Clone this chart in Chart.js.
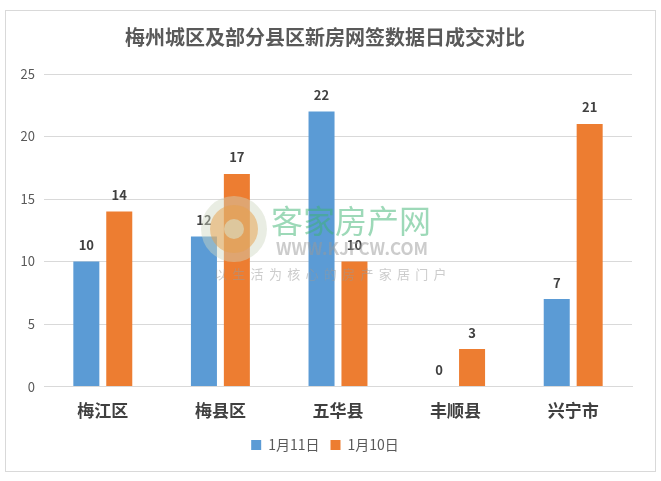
<!DOCTYPE html>
<html>
<head>
<meta charset="utf-8">
<script src="https://cdn.jsdelivr.net/npm/chart.js@4/dist/chart.umd.min.js"></script>
<style>
  body { margin: 0; background: #fff; }
  #box {
    position: absolute; left: 5px; top: 10px;
    width: 649px; height: 460px;
    border: 1px solid #d9d9d9;
  }
</style>
</head>
<body>
<div id="box"><canvas id="grafico"></canvas></div>
<script>
const titulo = "梅州城区及部分县区新房网签数据日成交对比";
const categorias = ["梅江区", "梅县区", "五华县", "丰顺县", "兴宁市"];
const series = ["1月11日", "1月10日"];
const datos11 = [10, 12, 22, 0, 7];
const datos10 = [14, 17, 10, 3, 21];
const ticksY = [0, 5, 10, 15, 20, 25];

const fuente = '"Noto Sans CJK SC", "Noto Sans", sans-serif';

// etiquetas encima de cada barra
const etiquetas = {
  id: "etiquetas",
  afterDatasetsDraw(chart) {
    const ctx = chart.ctx;
    ctx.save();
    ctx.font = "bold 13px " + fuente;
    ctx.fillStyle = "#404040";
    ctx.textAlign = "center";
    ctx.textBaseline = "bottom";
    chart.data.datasets.forEach((ds, i) => {
      chart.getDatasetMeta(i).data.forEach((bar, j) => {
        ctx.fillText(ds.data[j], bar.x, bar.y - 10);
      });
    });
    ctx.restore();
  },
};

// marca de agua (logo del sitio)
const marca = {
  id: "marca",
  afterDraw(chart) {
    const ctx = chart.ctx;
    ctx.save();
    // circulo
    ctx.globalAlpha = 0.45;
    ctx.beginPath();
    ctx.arc(228, 218, 33, 0, Math.PI * 2);
    ctx.fillStyle = "#cfd8c0";
    ctx.fill();
    ctx.globalAlpha = 0.5;
    ctx.beginPath();
    ctx.arc(228, 218, 24, 0, Math.PI * 2);
    ctx.fillStyle = "#e8a04a";
    ctx.fill();
    ctx.globalAlpha = 0.6;
    ctx.beginPath();
    ctx.arc(228, 218, 10, 0, Math.PI * 2);
    ctx.fillStyle = "#d8e0c8";
    ctx.fill();
    // textos
    ctx.globalAlpha = 0.5;
    ctx.textAlign = "left";
    ctx.textBaseline = "middle";
    ctx.fillStyle = "#3cb371";
    ctx.font = "32px " + fuente;
    ctx.fillText("客家房产网", 265, 210);
    ctx.fillStyle = "#999999";
    ctx.font = "bold 17px " + fuente;
    ctx.fillText("WWW.KJFCW.COM", 270, 238);
    ctx.font = "13px " + fuente;
    const lema = "以生活为核心的房产家居门户";
    for (let k = 0; k < lema.length; k++) {
      ctx.fillText(lema[k], 208 + k * 18.3, 263);
    }
    ctx.restore();
  },
};

new Chart(document.getElementById("grafico"), {
  type: "bar",
  data: {
    labels: categorias,
    datasets: [
      { label: series[0], data: datos11, backgroundColor: "#5b9bd5" },
      { label: series[1], data: datos10, backgroundColor: "#ed7d31" },
    ],
  },
  options: {
    responsive: true,
    maintainAspectRatio: false,
    animation: false,
    layout: { padding: { left: 12, right: 23, top: 0, bottom: 9 } },
    datasets: { bar: { categoryPercentage: 0.56, barPercentage: 0.79 } },
    plugins: {
      title: {
        display: true,
        text: titulo,
        color: "#595959",
        font: { family: fuente, size: 20, weight: "bold" },
        padding: { top: 14, bottom: 25 },
      },
      legend: {
        position: "bottom",
        labels: {
          color: "#595959",
          font: { family: fuente, size: 14 },
          boxWidth: 10,
          boxHeight: 10,
          padding: 11,
        },
      },
      tooltip: { enabled: false },
    },
    scales: {
      x: {
        grid: { display: false },
        border: { color: "#d9d9d9" },
        ticks: {
          color: "#404040",
          font: { family: fuente, size: 17, weight: "bold" },
          padding: 6,
        },
      },
      y: {
        min: 0,
        max: 25,
        afterBuildTicks(axis) {
          axis.ticks = ticksY.map((v) => ({ value: v }));
        },
        afterFit(axis) {
          axis.width = 26;
        },
        grid: { color: "#d9d9d9", drawTicks: false },
        border: { display: false },
        ticks: {
          color: "#595959",
          font: { family: fuente, size: 13 },
          padding: 9,
        },
      },
    },
  },
  plugins: [etiquetas, marca],
});
</script>
</body>
</html>
